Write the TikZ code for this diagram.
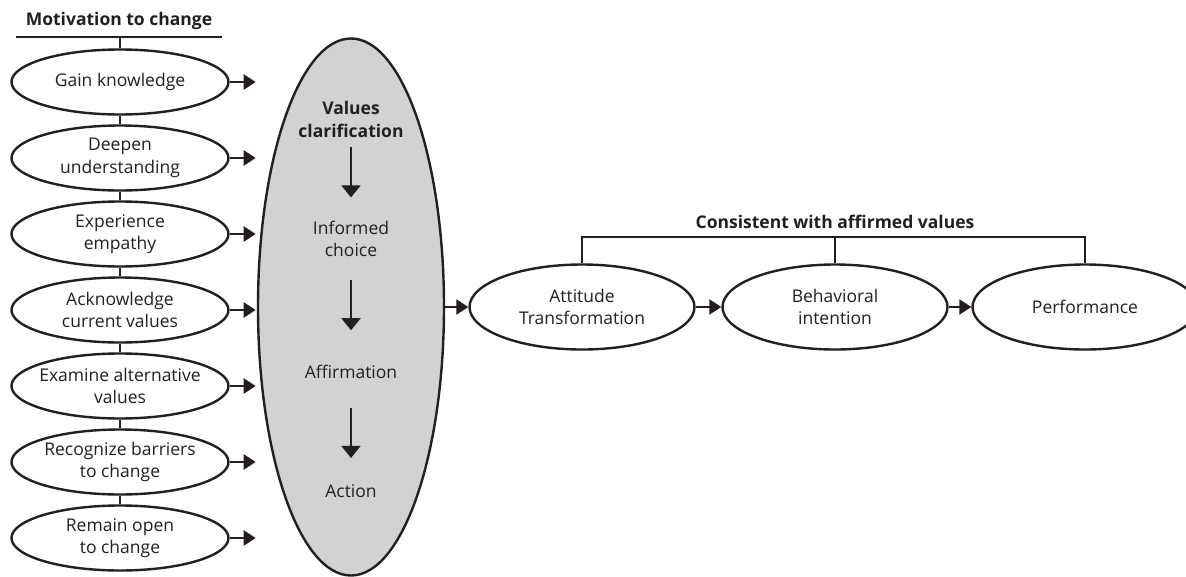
\documentclass[tikz,border=0pt]{standalone}
\usepackage{fontspec}
\setmainfont{Open Sans}
\usetikzlibrary{shapes.geometric,arrows.meta}
\definecolor{fillgray}{HTML}{D1D2D4}
\definecolor{ink}{HTML}{231F20}
\begin{document}
\begin{tikzpicture}[x=1pt,y=-1pt,
  every node/.style={font=\fontsize{17.5}{22.5}\selectfont, text=ink, align=center, inner sep=0pt},
  leftell/.style={ellipse, draw=ink, line width=2.4pt, minimum width=217pt, minimum height=65pt, fill=white, label={center:#1}},
  rightell/.style={ellipse, draw=ink, line width=2.4pt, minimum width=225pt, minimum height=85pt, fill=white, label={center:#1}},
  bigell/.style={ellipse, draw=ink, line width=2.4pt, minimum width=186pt, minimum height=537pt, fill=fillgray},
  link/.style={draw=ink, line width=2.4pt},
  arr/.style={draw=ink, line width=2.4pt, -{Triangle[length=12pt,width=15pt]}},
  downarr/.style={draw=ink, line width=1.8pt, -{Triangle[length=12pt,width=19pt]}},
  btitle/.style={font=\fontsize{17.5}{23}\selectfont\bfseries}
]
\useasboundingbox (0,0) rectangle (1186,576);

% left column
\node[btitle] (mtitle) at (119,21) {Motivation to change};
\coordinate (ulL) at (16,37);
\coordinate (ulR) at (222,37);
\coordinate (ulM) at (120,37);
\draw[link] (ulL) -- (ulR);

\node[leftell={Gain knowledge}] (l1) at (120,82) {};
\node[leftell={Deepen\\understanding}] (l2) at (120,158) {};
\node[leftell={Experience\\empathy}] (l3) at (120,234) {};
\node[leftell={Acknowledge\\current values}] (l4) at (120,310) {};
\node[leftell={Examine alternative\\values}] (l5) at (120,386) {};
\node[leftell={Recognize barriers\\to change}] (l6) at (120,462) {};
\node[leftell={Remain open\\to change}] (l7) at (120,538) {};

\draw[link] (ulM) -- (l1.north);
\draw[link] (l1.south) -- (l2.north);
\draw[link] (l2.south) -- (l3.north);
\draw[link] (l3.south) -- (l4.north);
\draw[link] (l4.south) -- (l5.north);
\draw[link] (l5.south) -- (l6.north);
\draw[link] (l6.south) -- (l7.north);

\foreach \i in {1,...,7} {
  \draw[arr] (l\i.east) -- ++(26,0) coordinate (t\i);
}

% big ellipse
\node[bigell] (big) at (351,307) {};
\node[btitle] (vc) at (351,119) {Values\\clarification};
\node (ic) at (351,239) {Informed\\choice};
\node (af) at (351,372) {Affirmation};
\node (ac) at (351,491) {Action};
\draw[downarr] (vc.south) ++(0,10) coordinate (a1s) -- ++(0,50) coordinate (a1e);
\draw[downarr] (ic.south) ++(0,23) coordinate (a2s) -- ++(0,50) coordinate (a2e);
\draw[downarr] (af.south) ++(0,29) coordinate (a3s) -- ++(0,50) coordinate (a3e);

% right row
\node[rightell={Attitude\\Transformation}] (att) at (582,307) {};
\node[rightell={Behavioral\\intention}] (beh) at (835,307) {};
\node[rightell={Performance}] (perf) at (1085,307) {};

\draw[arr] (big.east) -- (att.west);
\draw[arr] (att.east) -- (beh.west);
\draw[arr] (beh.east) -- (perf.west);

\node[btitle] (cons) at (835,222) {Consistent with affirmed values};
\coordinate (bL) at (582,237);
\coordinate (bM) at (835,237);
\coordinate (bR) at (1085,237);
\draw[link] (att.north) -- (bL) -- (bR) -- (perf.north);
\draw[link] (bM) -- (beh.north);
\end{tikzpicture}
\end{document}
